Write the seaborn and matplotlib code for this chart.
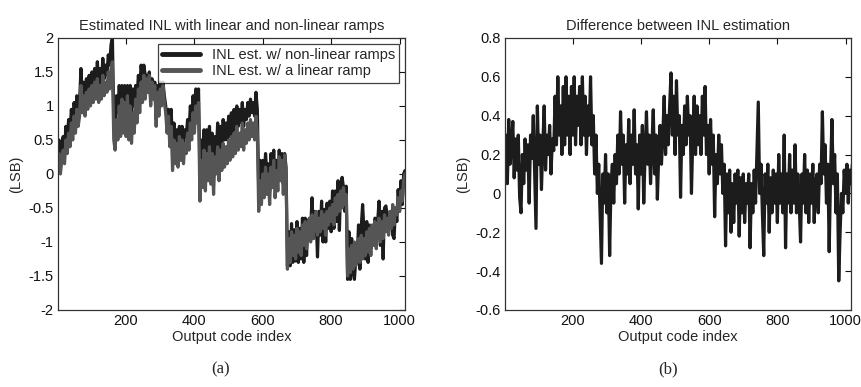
import numpy as np
import pandas as pd
import matplotlib
matplotlib.use('Agg')
import matplotlib.pyplot as plt
import seaborn as sns

# 输出码索引（每 4 个码取一个点）
codes = list(range(0, 1021, 4))

# INL 估计（非线性斜坡）
inl_nonlinear = [
    0.25, 0.5, 0.2, 0.4, 0.55, 0.35, 0.7, 0.5, 0.8, 0.6, 0.95, 0.7, 1.05, 0.8, 1.15, 0.9, 1.05, 1.55, 1.1, 1.35, 1.05, 1.4, 1.15, 1.45, 1.2,
    1.5, 1.25, 1.55, 1.3, 1.65, 1.3, 1.55, 1.35, 1.7, 1.4, 1.6, 1.45, 1.75, 1.6, 1.9, 2.0, 0.85, 0.7, 1.15, 0.9, 1.3, 0.95, 1.3, 1.0, 1.3,
    0.95, 1.3, 0.9, 1.3, 0.85, 1.25, 1.0, 1.3, 1.1, 1.45, 1.25, 1.6, 1.4, 1.6, 1.45, 1.45, 1.3, 1.5, 1.1, 1.4, 1.15, 1.35, 0.8, 1.3, 0.95,
    1.35, 1.1, 1.35, 1.15, 1.0, 0.75, 0.95, 0.55, 0.95, 0.35, 0.75, 0.45, 0.65, 0.4, 0.7, 0.45, 0.7, 0.4, 0.65, 0.55, 0.8, 0.6, 1.0, 0.8, 1.15,
    0.9, 1.25, 1.0, 1.25, 0.0, 0.5, 0.15, 0.65, 0.1, 0.65, 0.25, 0.7, 0.2, 0.6, 0.05, 0.55, 0.3, 0.75, 0.3, 0.7, 0.4, 0.8, 0.5, 0.75, 0.5,
    0.85, 0.55, 0.9, 0.6, 0.95, 0.65, 1.0, 0.7, 0.95, 0.75, 1.05, 0.7, 0.95, 0.8, 1.05, 0.85, 1.1, 0.9, 1.05, 0.85, 1.2, 0.95, -0.2, 0.2, -0.1,
    0.2, -0.1, 0.3, 0.0, 0.15, -0.25, 0.3, 0.0, 0.35, -0.15, 0.2, -0.1, 0.35, 0.05, 0.3, -0.15, 0.3, 0.1, -1.35, -0.85, -1.35, -0.73, -1.3, -0.82, -1.28,
    -0.7, -1.3, -0.8, -1.25, -0.65, -1.3, -0.65, -1.2, -0.68, -0.7, -0.8, -0.35, -0.95, -0.55, -0.65, -1.22, -0.55, -0.9, -0.4, -1.0, -0.52, -1.0, -0.43, -0.8, -0.4,
    -0.85, -0.25, -0.8, -0.25, -0.7, -0.1, -0.83, -0.15, -0.05, -0.2, -0.55, -0.18, -1.55, -0.85, -1.55, -0.95, -1.45, -1.55, -1.25, -1.25, -0.75, -1.4, -0.78, -0.45, -0.85,
    -1.25, -0.7, -1.3, -0.75, -1.1, -0.85, -0.9, -0.65, -0.68, -0.7, -0.4, -1.05, -0.55, -1.25, -0.5, -0.47, -0.6, -0.7, -0.65, -0.7, -0.9, -0.95, -0.5, -0.7, -0.23,
    -0.55, -0.1, -0.45, 0.0, 0.05, -0.05,
]

# INL 估计（线性斜坡）
inl_linear = [
    0.05, 0.3, 0.0, 0.2, 0.35, 0.15, 0.5, 0.3, 0.6, 0.4, 0.75, 0.5, 0.85, 0.6, 0.95, 0.7, 0.85, 1.3, 0.9, 1.15, 0.85, 1.2, 0.95, 1.25, 1.0,
    1.3, 1.05, 1.35, 1.1, 1.4, 1.05, 1.3, 1.1, 1.45, 1.15, 1.35, 1.2, 1.5, 1.25, 1.55, 1.65, 0.5, 0.35, 0.8, 0.5, 1.0, 0.55, 1.1, 0.6, 1.05,
    0.55, 1.15, 0.5, 1.0, 0.45, 0.9, 0.6, 1.1, 0.75, 1.25, 0.9, 1.35, 1.05, 1.45, 1.1, 1.4, 1.2, 1.45, 1.0, 1.35, 1.1, 1.3, 0.7, 1.2, 0.85,
    1.25, 1.0, 1.3, 1.05, 0.9, 0.6, 0.85, 0.4, 0.7, 0.05, 0.5, 0.15, 0.45, 0.1, 0.55, 0.2, 0.5, 0.15, 0.45, 0.3, 0.6, 0.35, 0.75, 0.5, 0.9,
    0.6, 1.0, 0.75, 1.05, -0.4, 0.2, -0.2, 0.35, -0.25, 0.3, -0.1, 0.4, -0.15, 0.3, -0.3, 0.25, 0.0, 0.4, -0.1, 0.35, 0.05, 0.45, 0.1, 0.4, 0.15,
    0.5, 0.2, 0.55, 0.25, 0.6, 0.3, 0.7, 0.35, 0.6, 0.4, 0.75, 0.35, 0.65, 0.45, 0.75, 0.5, 0.8, 0.55, 0.75, 0.5, 0.85, 0.6, -0.55, -0.1, -0.45,
    0.0, -0.35, 0.1, -0.3, 0.0, -0.45, 0.1, -0.2, 0.2, -0.35, 0.05, -0.25, 0.25, -0.1, 0.2, -0.3, 0.28, 0.0, -1.4, -0.95, -1.3, -0.85, -1.2, -0.9, -1.25,
    -0.8, -1.15, -0.85, -1.2, -0.75, -1.05, -0.7, -1.1, -0.8, -0.65, -1.0, -0.6, -0.95, -0.7, -0.55, -0.9, -0.65, -0.85, -0.55, -0.8, -0.6, -0.9, -0.55, -0.75, -0.5,
    -0.7, -0.45, -0.75, -0.35, -0.6, -0.3, -0.55, -0.25, -0.5, -0.2, -0.45, -0.3, -1.5, -1.1, -1.45, -1.05, -1.4, -1.0, -1.35, -1.2, -0.95, -1.3, -0.9, -1.25, -0.95,
    -1.2, -0.85, -1.15, -0.8, -1.2, -0.75, -1.05, -0.7, -1.1, -0.8, -0.65, -1.0, -0.7, -0.95, -0.6, -0.85, -0.65, -0.9, -0.55, -0.8, -0.45, -0.75, -0.5, -0.6, -0.35,
    -0.55, -0.25, -0.4, -0.1, 0.0, -0.2,
]

# 两种估计之差
inl_diff = [
    0.22, 0.3, 0.05, 0.38, 0.15, 0.25, 0.37, 0.08, 0.28, 0.12, 0.3, -0.02, -0.1, 0.2, 0.05, 0.28, 0.12, 0.25, -0.05, 0.3, 0.18, 0.4, 0.1, -0.18, 0.45,
    0.15, 0.3, 0.02, 0.25, 0.45, 0.12, 0.3, 0.2, 0.35, 0.1, 0.28, 0.22, 0.5, 0.25, 0.6, 0.3, 0.45, 0.2, 0.55, 0.25, 0.6, 0.3, 0.5, 0.2, 0.55,
    0.3, 0.6, 0.25, 0.5, 0.35, 0.55, 0.25, 0.6, 0.3, 0.5, 0.2, 0.45, 0.3, 0.6, 0.25, 0.4, 0.1, 0.3, 0.0, 0.15, -0.1, -0.36, 0.1, -0.05, 0.2,
    -0.1, 0.1, -0.32, 0.05, 0.15, -0.05, 0.2, 0.05, 0.3, 0.1, 0.42, 0.15, 0.3, -0.05, 0.25, 0.1, 0.38, 0.05, 0.3, 0.15, 0.43, 0.1, 0.25, -0.08, 0.3,
    0.1, 0.35, -0.05, 0.2, 0.42, 0.15, 0.3, 0.05, 0.25, 0.43, 0.1, 0.3, -0.03, 0.2, 0.35, 0.15, 0.3, 0.5, 0.2, 0.4, 0.25, 0.45, 0.62, 0.3, 0.5,
    0.2, 0.58, 0.3, 0.4, -0.02, 0.35, 0.2, 0.45, 0.25, 0.5, 0.3, 0.4, 0.0, 0.3, 0.5, 0.2, 0.45, 0.25, 0.4, 0.2, 0.5, 0.3, 0.55, 0.2, 0.35,
    0.1, 0.38, 0.15, 0.3, -0.12, 0.2, 0.05, 0.3, 0.1, 0.25, 0.0, 0.15, -0.27, 0.1, -0.1, 0.12, -0.2, 0.05, -0.15, 0.1, -0.05, 0.12, -0.22, 0.08, -0.1,
    0.1, -0.15, 0.05, -0.05, 0.1, -0.28, 0.05, -0.1, 0.12, -0.05, 0.2, 0.47, 0.0, 0.15, -0.1, -0.32, 0.1, -0.05, 0.15, -0.2, 0.08, -0.1, 0.12, -0.05, 0.1,
    -0.15, 0.2, -0.05, 0.1, -0.1, 0.3, -0.28, 0.1, -0.05, 0.2, -0.1, 0.12, -0.05, 0.25, -0.1, 0.1, -0.05, -0.25, 0.1, -0.05, 0.2, -0.1, 0.12, -0.15, 0.1,
    -0.05, 0.15, -0.15, 0.05, 0.1, -0.1, 0.15, 0.05, 0.42, 0.1, 0.25, -0.05, 0.15, -0.3, 0.1, 0.38, 0.05, 0.2, -0.1, 0.1, -0.45, -0.2, 0.0, -0.1, 0.12,
    0.0, 0.15, -0.05, 0.12, 0.05, 0.15,
]

xticks = [200, 400, 600, 800, 1000]
yticks_a = [-2, -1.5, -1, -0.5, 0, 0.5, 1, 1.5, 2]
yticks_b = [-0.6, -0.4, -0.2, 0, 0.2, 0.4, 0.6, 0.8]

df_a = pd.DataFrame({'code': codes * 2,
                     'inl': inl_nonlinear + inl_linear,
                     'est': ['INL est. w/ non-linear ramps'] * len(codes) + ['INL est. w/ a linear ramp'] * len(codes)})
df_b = pd.DataFrame({'code': codes, 'diff': inl_diff})

sns.set_style('white')
plt.rcParams['font.family'] = ['Liberation Sans', 'DejaVu Sans']
plt.rcParams['xtick.direction'] = 'in'
plt.rcParams['ytick.direction'] = 'in'

fig = plt.figure(figsize=(8.61, 3.87), dpi=100)
ax1 = fig.add_axes([0.0674, 0.199, 0.403, 0.703])
ax2 = fig.add_axes([0.5865, 0.199, 0.4019, 0.703])

sns.lineplot(data=df_a, x='code', y='inl', hue='est', ax=ax1,
             palette=['#1c1c1c', '#555555'], linewidth=2.3)
sns.lineplot(data=df_b, x='code', y='diff', ax=ax2, color='#1c1c1c', linewidth=2.3)

for ax, yt, ylim, title in [(ax1, yticks_a, (-2, 2), 'Estimated INL with linear and non-linear ramps'),
                            (ax2, yticks_b, (-0.6, 0.8), 'Difference between INL estimation')]:
    ax.set_xlim(1, 1016)
    ax.set_ylim(*ylim)
    ax.set_xticks(xticks)
    ax.set_xticklabels([str(t) for t in xticks])
    ax.set_yticks(yt)
    ax.set_yticklabels(['%g' % t for t in yt])
    ax.tick_params(labelsize=10.5, length=4, width=0.8, top=True, right=True, pad=3, colors='#111111')
    for s in ax.spines.values():
        s.set_color('#333333')
        s.set_linewidth(0.9)
    ax.set_title(title, fontsize=10.5, pad=6)
    ax.set_xlabel('Output code index', fontsize=10.5, labelpad=1)
    ax.set_ylabel('(LSB)', fontsize=10.5, labelpad=4)

leg = ax1.legend(loc='upper right', fontsize=10.5, frameon=True, fancybox=False,
                 handlelength=2.6, borderaxespad=0.4, borderpad=0.3, labelspacing=0.15)
leg.get_frame().set_edgecolor('#111111')
leg.get_frame().set_linewidth(0.9)
for line in leg.get_lines():
    line.set_linewidth(3.5)

fig.text(0.256, 0.024, '(a)', ha='center', va='bottom', fontsize=12, family='Liberation Serif')
fig.text(0.776, 0.024, '(b)', ha='center', va='bottom', fontsize=12, family='Liberation Serif')

fig.savefig('out.png', dpi=100)
